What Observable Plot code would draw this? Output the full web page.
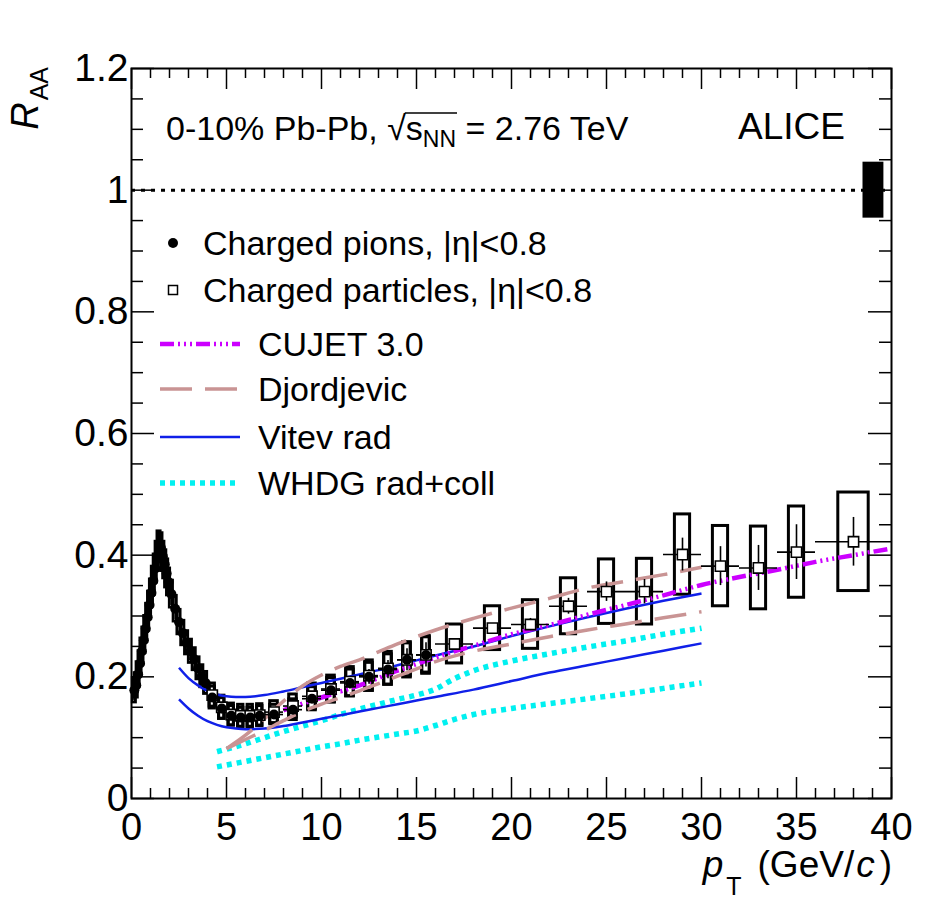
<!DOCTYPE html>
<html><head><meta charset="utf-8">
<script src="https://cdn.jsdelivr.net/npm/d3@7"></script>
<script src="https://cdn.jsdelivr.net/npm/@observablehq/plot@0.6"></script>
<style>body{margin:0;background:#fff} svg{display:block}</style>
</head><body><div id="chart"></div>
<script>
const FONT = "'Liberation Sans', Arial, Helvetica, sans-serif";

// ---- Data ----
// common pT bin edges for charged particles / pions above 4 GeV/c
const ptEdges = [4,4.5,5,5.5,6,6.5,7,8,9,10,11,12,13,14,15,16,18,20,22,24,26,28,30,32,34,36,40];
// charged particles, |eta|<0.8
const chRaa  = [0.170,0.150,0.138,0.136,0.136,0.137,0.142,0.152,0.168,0.180,0.192,0.202,0.214,0.228,0.236,0.254,0.280,0.286,0.316,0.340,0.340,0.401,0.382,0.379,0.405,0.422];
const chStat = [0.002,0.002,0.002,0.002,0.002,0.002,0.002,0.002,0.003,0.003,0.003,0.003,0.004,0.004,0.004,0.004,0.005,0.010,0.013,0.016,0.020,0.027,0.032,0.037,0.045,0.040];
const chSys  = [0.019,0.019,0.018,0.018,0.018,0.018,0.018,0.019,0.021,0.022,0.024,0.025,0.027,0.029,0.031,0.032,0.036,0.040,0.046,0.053,0.054,0.066,0.066,0.068,0.075,0.081];
// charged pions, |eta|<0.8 : low-pT fine bins
const piLowPt   = [0.15,0.25,0.35,0.45,0.55,0.65,0.75,0.85,0.95,1.05,1.15,1.25,1.35,1.45,1.55,1.65,1.75,1.85,1.95,2.1,2.3,2.5,2.7,2.9,3.1,3.3,3.5,3.7,3.9];
const piLowHalf = [0.05,0.05,0.05,0.05,0.05,0.05,0.05,0.05,0.05,0.05,0.05,0.05,0.05,0.05,0.05,0.05,0.05,0.05,0.05,0.1,0.1,0.1,0.1,0.1,0.1,0.1,0.1,0.1,0.1];
const piLowRaa  = [0.178,0.186,0.204,0.222,0.242,0.260,0.279,0.298,0.318,0.338,0.358,0.378,0.398,0.415,0.412,0.398,0.385,0.370,0.356,0.336,0.312,0.290,0.272,0.256,0.242,0.229,0.214,0.201,0.190];
const piLowSys  = [0.020,0.020,0.020,0.020,0.021,0.021,0.021,0.022,0.022,0.022,0.023,0.023,0.024,0.024,0.024,0.024,0.023,0.023,0.022,0.022,0.021,0.020,0.020,0.019,0.019,0.018,0.018,0.018,0.018];
// charged pions in the first 15 common bins (4-16 GeV/c)
const piRaa  = [0.166,0.148,0.136,0.133,0.133,0.136,0.138,0.146,0.164,0.178,0.190,0.200,0.212,0.228,0.236];
const piStat = [0.002,0.002,0.002,0.002,0.002,0.003,0.003,0.004,0.006,0.008,0.010,0.012,0.015,0.018,0.020];
const piSys  = [0.018,0.017,0.016,0.016,0.016,0.016,0.016,0.017,0.019,0.020,0.022,0.023,0.025,0.027,0.029];
// normalisation uncertainty at R_AA = 1
const normPt = [38.5, 39.6];
const normUnc = 0.046;

// model curves
const cujetPt  = [8,9,10,11,12,13,14,15,16,17,18,20,22,24,26,28,30,32,34,36,38,40];
const cujetRaa = [0.145,0.156,0.166,0.176,0.186,0.198,0.210,0.221,0.232,0.242,0.251,0.270,0.285,0.302,0.318,0.334,0.351,0.364,0.376,0.389,0.400,0.411];
const djPt     = [5,6,7,8,9,10,11,12,13,14,15,16,18,20,22,24,26,28,30];
const djHigh   = [0.082,0.104,0.131,0.160,0.185,0.203,0.217,0.228,0.241,0.254,0.266,0.277,0.296,0.313,0.329,0.346,0.357,0.368,0.380];
const djLow    = [0.082,0.097,0.112,0.128,0.143,0.155,0.166,0.177,0.189,0.201,0.213,0.225,0.242,0.254,0.266,0.277,0.287,0.297,0.307];
const vitevPt  = [2.5,3,3.5,4,4.5,5,5.5,6,7,8,9,10,11,12,13,14,15,16,18,20,22,24,26,28,30];
const vitevHigh= [0.215,0.198,0.186,0.177,0.171,0.168,0.167,0.167,0.170,0.176,0.183,0.190,0.197,0.204,0.211,0.219,0.227,0.235,0.250,0.267,0.283,0.298,0.312,0.325,0.337];
const vitevLow = [0.163,0.148,0.136,0.127,0.121,0.117,0.115,0.114,0.115,0.119,0.125,0.131,0.137,0.143,0.149,0.155,0.161,0.167,0.179,0.193,0.207,0.219,0.231,0.243,0.255];
const whdgPt   = [4.5,5,6,7,8,9,10,11,12,13,14,15,16,17,18,20,22,24,26,28,30];
const whdgHigh = [0.077,0.081,0.090,0.100,0.110,0.119,0.128,0.138,0.147,0.155,0.163,0.170,0.180,0.197,0.210,0.226,0.238,0.249,0.259,0.270,0.280];
const whdgLow  = [0.052,0.055,0.061,0.067,0.073,0.079,0.085,0.090,0.096,0.101,0.106,0.111,0.120,0.130,0.138,0.148,0.156,0.164,0.172,0.181,0.190];

// ticks
const xMajor = [0,5,10,15,20,25,30,35,40];
const xMinor = d3.range(1,40).filter(v => v % 5 !== 0);
const yMajor = [0,0.2,0.4,0.6,0.8,1,1.2];
const yMinor = [0.05,0.1,0.15,0.25,0.3,0.35,0.45,0.5,0.55,0.65,0.7,0.75,0.85,0.9,0.95,1.05,1.1,1.15];

// ---- derived tables ----
const charged = chRaa.map((r,i) => {
  const lo = ptEdges[i], hi = ptEdges[i+1], bw = hi - lo, h = Math.max(0.14, 0.2*bw);
  return {pt: (lo+hi)/2, lo, hi, bx1: (lo+hi)/2 - h, bx2: (lo+hi)/2 + h, raa: r, stat: chStat[i], sys: chSys[i]};
});
const pionsHigh = piRaa.map((r,i) => {
  const lo = ptEdges[i], hi = ptEdges[i+1], bw = hi - lo, h = Math.max(0.14, 0.2*bw);
  return {pt: (lo+hi)/2, lo, hi, bx1: (lo+hi)/2 - h, bx2: (lo+hi)/2 + h, raa: r, stat: piStat[i], sys: piSys[i]};
});
const pionsLow = piLowPt.map((p,i) => ({pt: p, lo: p - piLowHalf[i], hi: p + piLowHalf[i], bx1: p - 0.08, bx2: p + 0.08, raa: piLowRaa[i], stat: 0.002, sys: piLowSys[i]}));
const pions = pionsLow.concat(pionsHigh);
const toXY = (xs, ys) => xs.map((x,i) => ({x, y: ys[i]}));

const W = 950, H = 902, mL = 131, mR = 59, mT = 68, mB = 104;
const innerW = W - mL - mR, innerH = H - mT - mB;

const C = {cujet: "#cc00ff", dj: "#c99494", vitev: "#1020e8", whdg: "#00f0f0"};
const ST = {
  cujet: {stroke: C.cujet, strokeWidth: 4.5, strokeDasharray: "14,4,2,4,2,4,2,4", strokeLinecap: "butt"},
  dj:    {stroke: C.dj, strokeWidth: 3.5, strokeDasharray: "32,13", strokeLinecap: "butt"},
  vitev: {stroke: C.vitev, strokeWidth: 2.5, strokeLinecap: "butt"},
  whdg:  {stroke: C.whdg, strokeWidth: 5.5, strokeDasharray: "5,5", strokeLinecap: "butt"}
};

const boxStyle = {fill: "none", stroke: "black", strokeWidth: 3};

const chart = Plot.plot({
  width: W, height: H,
  marginLeft: mL, marginRight: mR, marginTop: mT, marginBottom: mB,
  style: {fontFamily: FONT, background: "white", color: "black"},
  x: {domain: [0, 40]},
  y: {domain: [0, 1.2]},
  marks: [
    Plot.ruleY([1], {strokeWidth: 3, strokeDasharray: "4,6"}),
    Plot.rect([{x1: normPt[0], x2: normPt[1], y1: 1 - normUnc, y2: 1 + normUnc}], {x1: "x1", x2: "x2", y1: "y1", y2: "y2", fill: "black"}),
    // systematic boxes
    Plot.rect(charged, {x1: "bx1", x2: "bx2", y1: d => d.raa - d.sys, y2: d => d.raa + d.sys, ...boxStyle}),
    Plot.rect(pions, {x1: "bx1", x2: "bx2", y1: d => d.raa - d.sys, y2: d => d.raa + d.sys, ...boxStyle}),
    // models
    Plot.line(toXY(whdgPt, whdgHigh), {x: "x", y: "y", curve: "monotone-x", ...ST.whdg}),
    Plot.line(toXY(whdgPt, whdgLow), {x: "x", y: "y", curve: "monotone-x", ...ST.whdg}),
    Plot.line(toXY(vitevPt, vitevHigh), {x: "x", y: "y", curve: "monotone-x", ...ST.vitev}),
    Plot.line(toXY(vitevPt, vitevLow), {x: "x", y: "y", curve: "monotone-x", ...ST.vitev}),
    Plot.line(toXY(djPt, djHigh), {x: "x", y: "y", curve: "monotone-x", ...ST.dj}),
    Plot.line(toXY(djPt, djLow), {x: "x", y: "y", curve: "monotone-x", ...ST.dj}),
    Plot.line(toXY(cujetPt, cujetRaa), {x: "x", y: "y", curve: "monotone-x", ...ST.cujet}),
    // error bars
    Plot.ruleY(charged, {y: "raa", x1: "lo", x2: "hi", strokeWidth: 1.6}),
    Plot.ruleX(charged, {x: "pt", y1: d => d.raa - d.stat, y2: d => d.raa + d.stat, strokeWidth: 1.6}),
    Plot.ruleY(pionsHigh, {y: "raa", x1: "lo", x2: "hi", strokeWidth: 1.6}),
    Plot.ruleX(pions, {x: "pt", y1: d => d.raa - d.stat, y2: d => d.raa + d.stat, strokeWidth: 1.6}),
    // markers
    Plot.dot(charged, {x: "pt", y: "raa", symbol: "square", r: 5.8, fill: "white", stroke: "black", strokeWidth: 1.6}),
    Plot.dot(pions, {x: "pt", y: "raa", r: 5, fill: "black"}),
    // frame & ticks
    Plot.frame({strokeWidth: 2}),
    Plot.ruleX(xMajor, {x: d => d, insetTop: innerH - 21, strokeWidth: 1.5}),
    Plot.ruleX(xMajor, {x: d => d, insetBottom: innerH - 21, strokeWidth: 1.5}),
    Plot.ruleX(xMinor, {x: d => d, insetTop: innerH - 10, strokeWidth: 1.5}),
    Plot.ruleX(xMinor, {x: d => d, insetBottom: innerH - 10, strokeWidth: 1.5}),
    Plot.ruleY(yMajor, {y: d => d, insetRight: innerW - 23, strokeWidth: 1.5}),
    Plot.ruleY(yMajor, {y: d => d, insetLeft: innerW - 23, strokeWidth: 1.5}),
    Plot.ruleY(yMinor, {y: d => d, insetRight: innerW - 12, strokeWidth: 1.5}),
    Plot.ruleY(yMinor, {y: d => d, insetLeft: innerW - 12, strokeWidth: 1.5}),
    Plot.axisX({ticks: xMajor, tickSize: 0, tickPadding: 15, fontSize: 38, label: null, tickFormat: d => String(d)}),
    Plot.axisY({ticks: yMajor, tickSize: 0, tickPadding: 3, fontSize: 39, label: null, tickFormat: d => String(d)})
  ]
});
document.getElementById("chart").append(chart);

// ---- annotations, axis titles & legend ----
const svg = d3.select(chart);
const g = svg.append("g").attr("font-family", FONT).attr("fill", "black").attr("text-anchor", "start");

// y title R_AA
const yt = g.append("text").attr("transform", "translate(38,67) rotate(-90)").attr("text-anchor", "end").attr("font-size", 38);
yt.append("tspan").attr("font-style", "italic").text("R");
yt.append("tspan").attr("font-size", 25).attr("dy", 10).attr("dx", 2).text("AA");

// x title p_T (GeV/c)
const xt = g.append("text").attr("x", 892).attr("y", 877).attr("text-anchor", "end").attr("font-size", 37);
xt.append("tspan").attr("font-style", "italic").text("p");
xt.append("tspan").attr("font-size", 25).attr("dx", 3).attr("dy", 18).text("T");
xt.append("tspan").attr("dx", 16).attr("dy", -18).text("(GeV/");
xt.append("tspan").attr("dx", 2).attr("font-style", "italic").text("c");
xt.append("tspan").attr("dx", 5).text(")");

// header
const FS = 34;
const ht = g.append("text").attr("x", 166).attr("y", 140).attr("font-size", FS);
const pre = "0-10% Pb-Pb, ";
ht.append("tspan").text(pre);
ht.append("tspan").text("\u221A");
ht.append("tspan").text("s");
ht.append("tspan").attr("font-size", 23).attr("dy", 7).text("NN");
ht.append("tspan").attr("dy", -7).text(" = 2.76 TeV");
try {
  const n = ht.node();
  const xs = n.getStartPositionOfChar(pre.length + 1).x;
  const xe = n.getEndPositionOfChar(pre.length + 3).x;
  g.append("line").attr("x1", xs - 1).attr("x2", xe + 1).attr("y1", 140 - 27).attr("y2", 140 - 27).attr("stroke", "black").attr("stroke-width", 1.5);
} catch (e) {}

g.append("text").attr("x", 845).attr("y", 139).attr("text-anchor", "end").attr("font-size", 37).text("ALICE");

// legend
const LX = 160, LXT = 203, LFS = 34;
g.append("circle").attr("cx", 173).attr("cy", 243).attr("r", 5).attr("fill", "black");
g.append("text").attr("x", LXT).attr("y", 243 + 12).attr("font-size", LFS).text("Charged pions, |\u03B7|<0.8");
g.append("rect").attr("x", 168.5).attr("y", 285.5).attr("width", 9).attr("height", 9).attr("fill", "white").attr("stroke", "black").attr("stroke-width", 1.5);
g.append("text").attr("x", LXT).attr("y", 290 + 12).attr("font-size", LFS).text("Charged particles, |\u03B7|<0.8");
const lines = [
  {label: "CUJET 3.0", y: 344, st: ST.cujet},
  {label: "Djordjevic", y: 389, st: ST.dj},
  {label: "Vitev rad", y: 437, st: ST.vitev},
  {label: "WHDG rad+coll", y: 483, st: ST.whdg}
];
for (const L of lines) {
  g.append("line").attr("x1", LX).attr("x2", 240).attr("y1", L.y).attr("y2", L.y)
    .attr("stroke", L.st.stroke).attr("stroke-width", L.st.strokeWidth).attr("stroke-dasharray", L.st.strokeDasharray || null);
  g.append("text").attr("x", 258).attr("y", L.y + 12).attr("font-size", LFS).text(L.label);
}
</script>
</body></html>
